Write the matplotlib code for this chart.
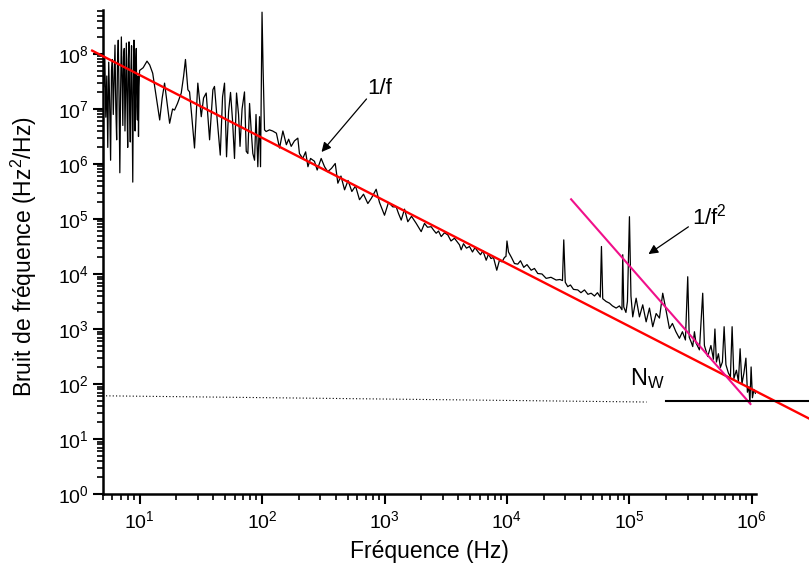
import numpy as np
import matplotlib
matplotlib.use('Agg')
import matplotlib.pyplot as plt
from matplotlib.ticker import LogLocator, NullFormatter

# ---------------- data ----------------
freq_low = [5.0, 5.1, 5.2, 5.3, 5.4, 5.5, 5.6, 5.7, 5.8, 5.9,
            6.0, 6.1, 6.2, 6.3, 6.4, 6.5, 6.6, 6.7, 6.8, 6.9,
            7.0, 7.1, 7.2, 7.3, 7.4, 7.5, 7.6, 7.7, 7.8, 7.9,
            8.0, 8.1, 8.2, 8.3, 8.4, 8.5, 8.6, 8.7, 8.8, 8.9,
            9.0, 9.1, 9.2, 9.3, 9.4, 9.5, 9.6, 9.7, 9.8, 9.9, 10.0,
            10.7, 11.5, 12.1, 12.8, 13.5, 14.6, 15.3, 16.0, 16.8, 17.6,
            18.6, 19.3, 20.4, 21.9, 22.9, 23.7, 24.8, 25.6, 26.6, 28.1,
            29.9, 31.9, 33.3, 35.0, 37.3, 39.7, 40.9, 42.5, 45.6, 47.6,
            49.4, 51.3, 53.3, 55.3, 57.4, 59.6, 61.9, 64.3, 66.1, 68.7,
            71.9, 74.3, 76.6, 79.1, 81.6, 84.1, 86.9, 89.3, 92.4, 95.4, 97.2]
psd_low = [1.12e8, 2.51e7, 8.91e7, 7.08e6, 3.98e7, 2.00e6, 7.08e7, 1.26e7, 1.17e6, 5.01e7,
           7.94e7, 7.94e6, 3.16e7, 1.45e8, 1.00e7, 2.75e6, 6.31e7, 1.78e8, 1.58e7, 6.92e5,
           2.00e7, 2.04e8, 3.98e7, 5.01e6, 8.91e7, 1.26e8, 3.98e6, 2.51e7, 1.58e8, 1.26e7,
           2.00e6, 7.94e7, 1.66e8, 1.00e7, 2.51e6, 5.01e7, 1.41e8, 7.94e6, 4.68e5, 3.16e7,
           1.78e8, 2.00e7, 3.98e6, 7.08e7, 1.26e8, 1.12e7, 6.31e6, 3.98e7, 3.16e6, 2.51e7, 5.01e7,
           5.62e7, 7.41e7, 6.31e7, 4.47e7, 2.00e7, 6.31e6, 1.58e7, 2.95e7, 1.26e7, 5.50e6,
           1.00e7, 9.55e6, 1.26e7, 1.95e7, 3.98e7, 7.94e7, 2.24e7, 2.04e7, 7.94e6, 1.95e6,
           2.95e7, 7.24e6, 1.58e7, 1.95e7, 2.75e6, 2.24e7, 2.57e7, 8.91e6, 1.45e6, 1.66e7,
           2.95e7, 1.35e6, 8.91e6, 2.00e7, 6.31e6, 1.26e6, 1.95e7, 7.94e6, 2.09e6, 1.00e7,
           2.04e7, 1.70e6, 1.55e6, 1.26e7, 3.98e6, 1.55e6, 1.17e6, 7.94e6, 8.91e5, 7.24e6, 8.91e5]

freq_mid = [100, 101.9, 104.8, 108, 115, 122, 131, 139, 148, 158, 165, 173, 184, 196,
            202, 215, 227, 237, 249, 268, 282, 304, 324, 344, 369, 396, 416, 441, 472,
            504, 541, 580, 625, 674, 731, 783, 855, 910, 1000, 1078, 1169, 1246, 1301,
            1369, 1457, 1550, 1662, 1815, 1895, 1993, 2121, 2244, 2405, 2512, 2642,
            2760, 2904, 3090, 3287, 3491, 3727, 3944, 4094, 4227, 4415, 4670, 4942,
            5229, 5482, 5776, 6077, 6368, 6765, 7063, 7405, 7759, 8254, 8685, 9103,
            9541, 9813, 10000]
psd_mid = [5.75e8, 5.89e7, 4.17e6, 3.89e6, 4.17e6, 3.98e6, 3.63e6, 1.95e6, 3.98e6, 2.24e6,
           2.82e6, 2.09e6, 2.63e6, 2.95e6, 1.55e6, 1.26e6, 1.66e6, 8.91e5, 1.26e6, 1.12e6,
           7.76e5, 1.26e6, 8.91e5, 7.24e5, 8.32e5, 1.02e6, 4.47e5, 6.03e5, 3.39e5, 5.01e5,
           3.16e5, 3.98e5, 2.24e5, 2.82e5, 1.91e5, 2.40e5, 3.47e5, 2.00e5, 1.17e5, 2.00e5,
           1.66e5, 1.66e5, 1.26e5, 9.55e4, 1.51e5, 8.91e4, 1.12e5, 8.32e4, 7.08e4, 5.89e4,
           8.32e4, 7.08e4, 7.24e4, 6.31e4, 5.50e4, 6.03e4, 4.79e4, 5.62e4, 5.13e4, 3.98e4,
           4.47e4, 3.80e4, 3.39e4, 2.75e4, 3.55e4, 2.95e4, 3.16e4, 2.51e4, 3.02e4, 2.57e4,
           2.24e4, 2.63e4, 1.78e4, 2.29e4, 1.91e4, 2.00e4, 1.17e4, 1.78e4, 1.66e4, 2.00e4,
           2.09e4, 3.98e4]

freq_high = [10290, 10880, 11510, 12250, 12890, 13710, 14570, 15760, 16770, 17840,
             19310, 20890, 22870, 25210, 27080, 28390, 29090, 29920, 31360, 32990,
             34910, 37850, 40190, 42930, 45830, 48680, 51810, 54820, 57770, 59080,
             60540, 64530, 68660, 72650, 77880, 82870, 86870, 88180, 89860, 93630,
             96310, 100000, 102900, 106400, 113400, 120700, 128400, 136900, 145700,
             155000, 165200, 175800, 187000, 198600, 212100, 224400, 239600, 256000,
             270800, 286500, 299200, 307800, 320800, 328700, 339400, 349100, 372700,
             396600, 409400, 435600, 462600, 484900, 498900, 513100, 532700, 553200,
             574300, 593100, 613500, 642900, 667500, 689200, 713000, 747300, 775900,
             801100, 828700, 860400, 893300, 919000, 945200, 963100, 985100, 1010000,
             1038000, 1068000]
psd_high = [2.51e4, 2.00e4, 1.55e4, 1.51e4, 1.74e4, 1.32e4, 1.48e4, 1.17e4, 1.26e4, 1.02e4,
            1.00e4, 8.32e3, 8.71e3, 7.76e3, 7.94e3, 7.59e3, 4.17e4, 7.08e3, 5.89e3, 6.31e3,
            5.25e3, 5.13e3, 4.57e3, 5.13e3, 4.27e3, 4.47e3, 3.98e3, 4.57e3, 3.80e3, 3.16e4,
            3.55e3, 3.16e3, 2.95e3, 2.63e3, 2.40e3, 2.63e3, 2.24e3, 2.24e4, 2.51e3, 2.00e3,
            3.16e3, 1.10e5, 3.98e3, 1.66e3, 3.63e3, 1.66e3, 2.75e3, 1.35e3, 2.40e3,
            1.10e3, 1.91e3, 1.58e3, 4.47e3, 2.24e3, 1.02e3, 1.26e3, 8.91e2, 6.76e2,
            8.91e2, 6.31e2, 8.91e3, 7.08e2, 5.62e2, 4.79e2, 8.91e2, 5.62e2, 4.17e2,
            4.47e3, 5.01e2, 3.16e2, 5.01e2, 2.82e2, 1.00e3, 2.51e2, 3.55e2, 2.00e2,
            2.51e2, 1.10e3, 2.24e2, 1.58e2, 1.35e2, 1.10e3, 1.26e2, 1.78e2, 1.12e2,
            4.37e2, 1.00e2, 1.58e2, 2.95e2, 70.8, 89.1, 44.7, 2.04e2, 56.2,
            79.4, 67.6]

# fitted lines / levels
fit_1f_freq = [4.1, 2.9e6]
fit_1f_psd = [1.15e8, 23.8]
fit_1f2_freq = [3.34e4, 9.73e5]
fit_1f2_psd = [2.28e5, 43.3]
nw_freq = [2.0e5, 2.9e6]
nw_psd = [49, 49]
dotted_freq = [5.0, 1.38e5]
dotted_psd = [61, 47]

# ---------------- style ----------------
plt.rcParams['font.family'] = ['Liberation Sans', 'DejaVu Sans']
plt.rcParams['mathtext.fontset'] = 'custom'
plt.rcParams['mathtext.rm'] = 'Liberation Sans'
plt.rcParams['mathtext.it'] = 'Liberation Sans:italic'
plt.rcParams['mathtext.bf'] = 'Liberation Sans:bold'

W, H = 809, 568
fig = plt.figure(figsize=(W / 100, H / 100), dpi=100)
ax = fig.add_axes([102.7 / W, 1 - 494 / H, (756 - 102.7) / W, (494 - 10) / H])

freq = freq_low + freq_mid + freq_high
psd = psd_low + psd_mid + psd_high

ax.plot(freq, psd, color='black', lw=0.9, zorder=2)
ax.plot(dotted_freq, dotted_psd, color='black', lw=0.8, ls=(0, (1, 2)), zorder=2)
ax.plot(fit_1f_freq, fit_1f_psd, color='#ff0000', lw=1.7, clip_on=False, zorder=3)
ax.plot(fit_1f2_freq, fit_1f2_psd, color='#f0108a', lw=1.5, clip_on=False, zorder=3)
ax.plot(nw_freq, nw_psd, color='black', lw=1.5, clip_on=False, zorder=3)

ax.set_xscale('log')
ax.set_yscale('log')
ax.set_xlim(5, 1.08e6)
ax.set_ylim(1, 6.3e8)

ax.xaxis.set_major_locator(LogLocator(base=10, numticks=20))
ax.yaxis.set_major_locator(LogLocator(base=10, numticks=20))
ax.xaxis.set_minor_locator(LogLocator(base=10, subs=np.arange(2, 10), numticks=100))
ax.yaxis.set_minor_locator(LogLocator(base=10, subs=np.arange(2, 10), numticks=100))
ax.xaxis.set_minor_formatter(NullFormatter())
ax.yaxis.set_minor_formatter(NullFormatter())

for s in ['top', 'right']:
    ax.spines[s].set_visible(False)
for s in ['left', 'bottom']:
    ax.spines[s].set_linewidth(1.8)

ax.tick_params(which='major', direction='out', length=7, width=1.5, labelsize=14)
ax.tick_params(which='minor', direction='out', length=4, width=1.2)
ax.tick_params(axis='x', which='major', pad=5)
ax.tick_params(axis='y', which='major', pad=3)

ax.set_xlabel('Fréquence (Hz)', fontsize=16.5, labelpad=5)
ax.set_ylabel(r'Bruit de fréquence (Hz$^2$/Hz)', fontsize=16.5)
ax.yaxis.set_label_coords(-0.097, 0.49)

# annotations
ax.annotate('', xy=(306, 1.65e6), xytext=(713, 1.52e7),
            arrowprops=dict(arrowstyle='-|>', color='black', lw=0.9,
                            mutation_scale=14, shrinkA=0, shrinkB=0))
ax.text(910, 2.4e7, '1/f', fontsize=16, ha='center', va='center')

ax.annotate('', xy=(1.43e5, 2.3e4), xytext=(3.03e5, 7.2e4),
            arrowprops=dict(arrowstyle='-|>', color='black', lw=0.9,
                            mutation_scale=14, shrinkA=0, shrinkB=0))
ax.text(4.5e5, 1.09e5, r'1/f$^2$', fontsize=16, ha='center', va='center')

ax.text(1.02e5, 96, r'N$_\mathrm{W}$', fontsize=17, ha='left', va='baseline')

fig.savefig('out.png', dpi=100)
